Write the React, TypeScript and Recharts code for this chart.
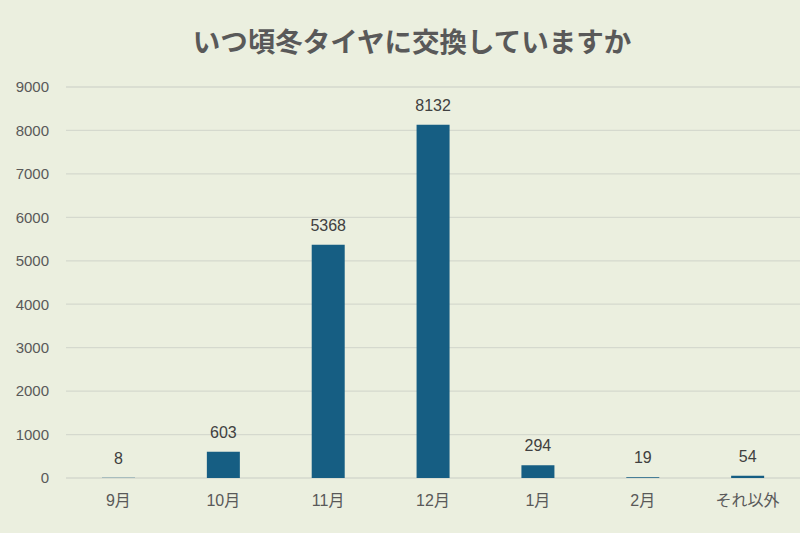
import React from "react";
import { BarChart, Bar, XAxis, YAxis, CartesianGrid, LabelList } from "recharts";

const categories = ["9月", "10月", "11月", "12月", "1月", "2月", "それ以外"];
const values = [8, 603, 5368, 8132, 294, 19, 54];
const yTicks = [0, 1000, 2000, 3000, 4000, 5000, 6000, 7000, 8000, 9000];
const title = "いつ頃冬タイヤに交換していますか";

const data = categories.map((c, i) => ({ name: c, value: values[i] }));

const FONT = '"Liberation Sans", "Noto Sans CJK JP", sans-serif';
const BG = "#EBEFDF";
const TEXT = "#595959";
const BAR = "#165E83";

export default function App() {
  return (
    <div style={{ position: "absolute", left: 0, top: 0, width: 800, height: 533, background: BG, fontFamily: FONT }}>
      <div
        style={{
          position: "absolute",
          left: 0,
          top: 20,
          width: 824,
          textAlign: "center",
          fontSize: 27.5,
          fontWeight: 700,
          color: TEXT,
          fontFamily: '"Noto Sans CJK JP", sans-serif',
          lineHeight: "40px",
        }}
      >
        {title}
      </div>
      <div style={{ position: "absolute", left: 0, top: 0 }}>
        <BarChart width={800} height={533} data={data} margin={{ top: 87, right: 0, left: 0, bottom: 0 }}>
          <CartesianGrid vertical={false} stroke="#D5D9CE" strokeWidth={1.3} />
          <XAxis
            dataKey="name"
            height={55}
            axisLine={false}
            tickLine={false}
            tickMargin={11}
            tick={{ fill: TEXT, fontSize: 16, fontFamily: FONT }}
          />
          <YAxis
            width={66}
            domain={[0, 9000]}
            ticks={yTicks}
            axisLine={false}
            tickLine={false}
            tickMargin={11}
            tick={{ fill: TEXT, fontSize: 15, fontFamily: FONT }}
          />
          <Bar dataKey="value" fill={BAR} barSize={33} isAnimationActive={false}>
            <LabelList dataKey="value" position="top" offset={14} fill="#404040" fontSize={16} fontFamily={FONT} />
          </Bar>
        </BarChart>
      </div>
    </div>
  );
}
